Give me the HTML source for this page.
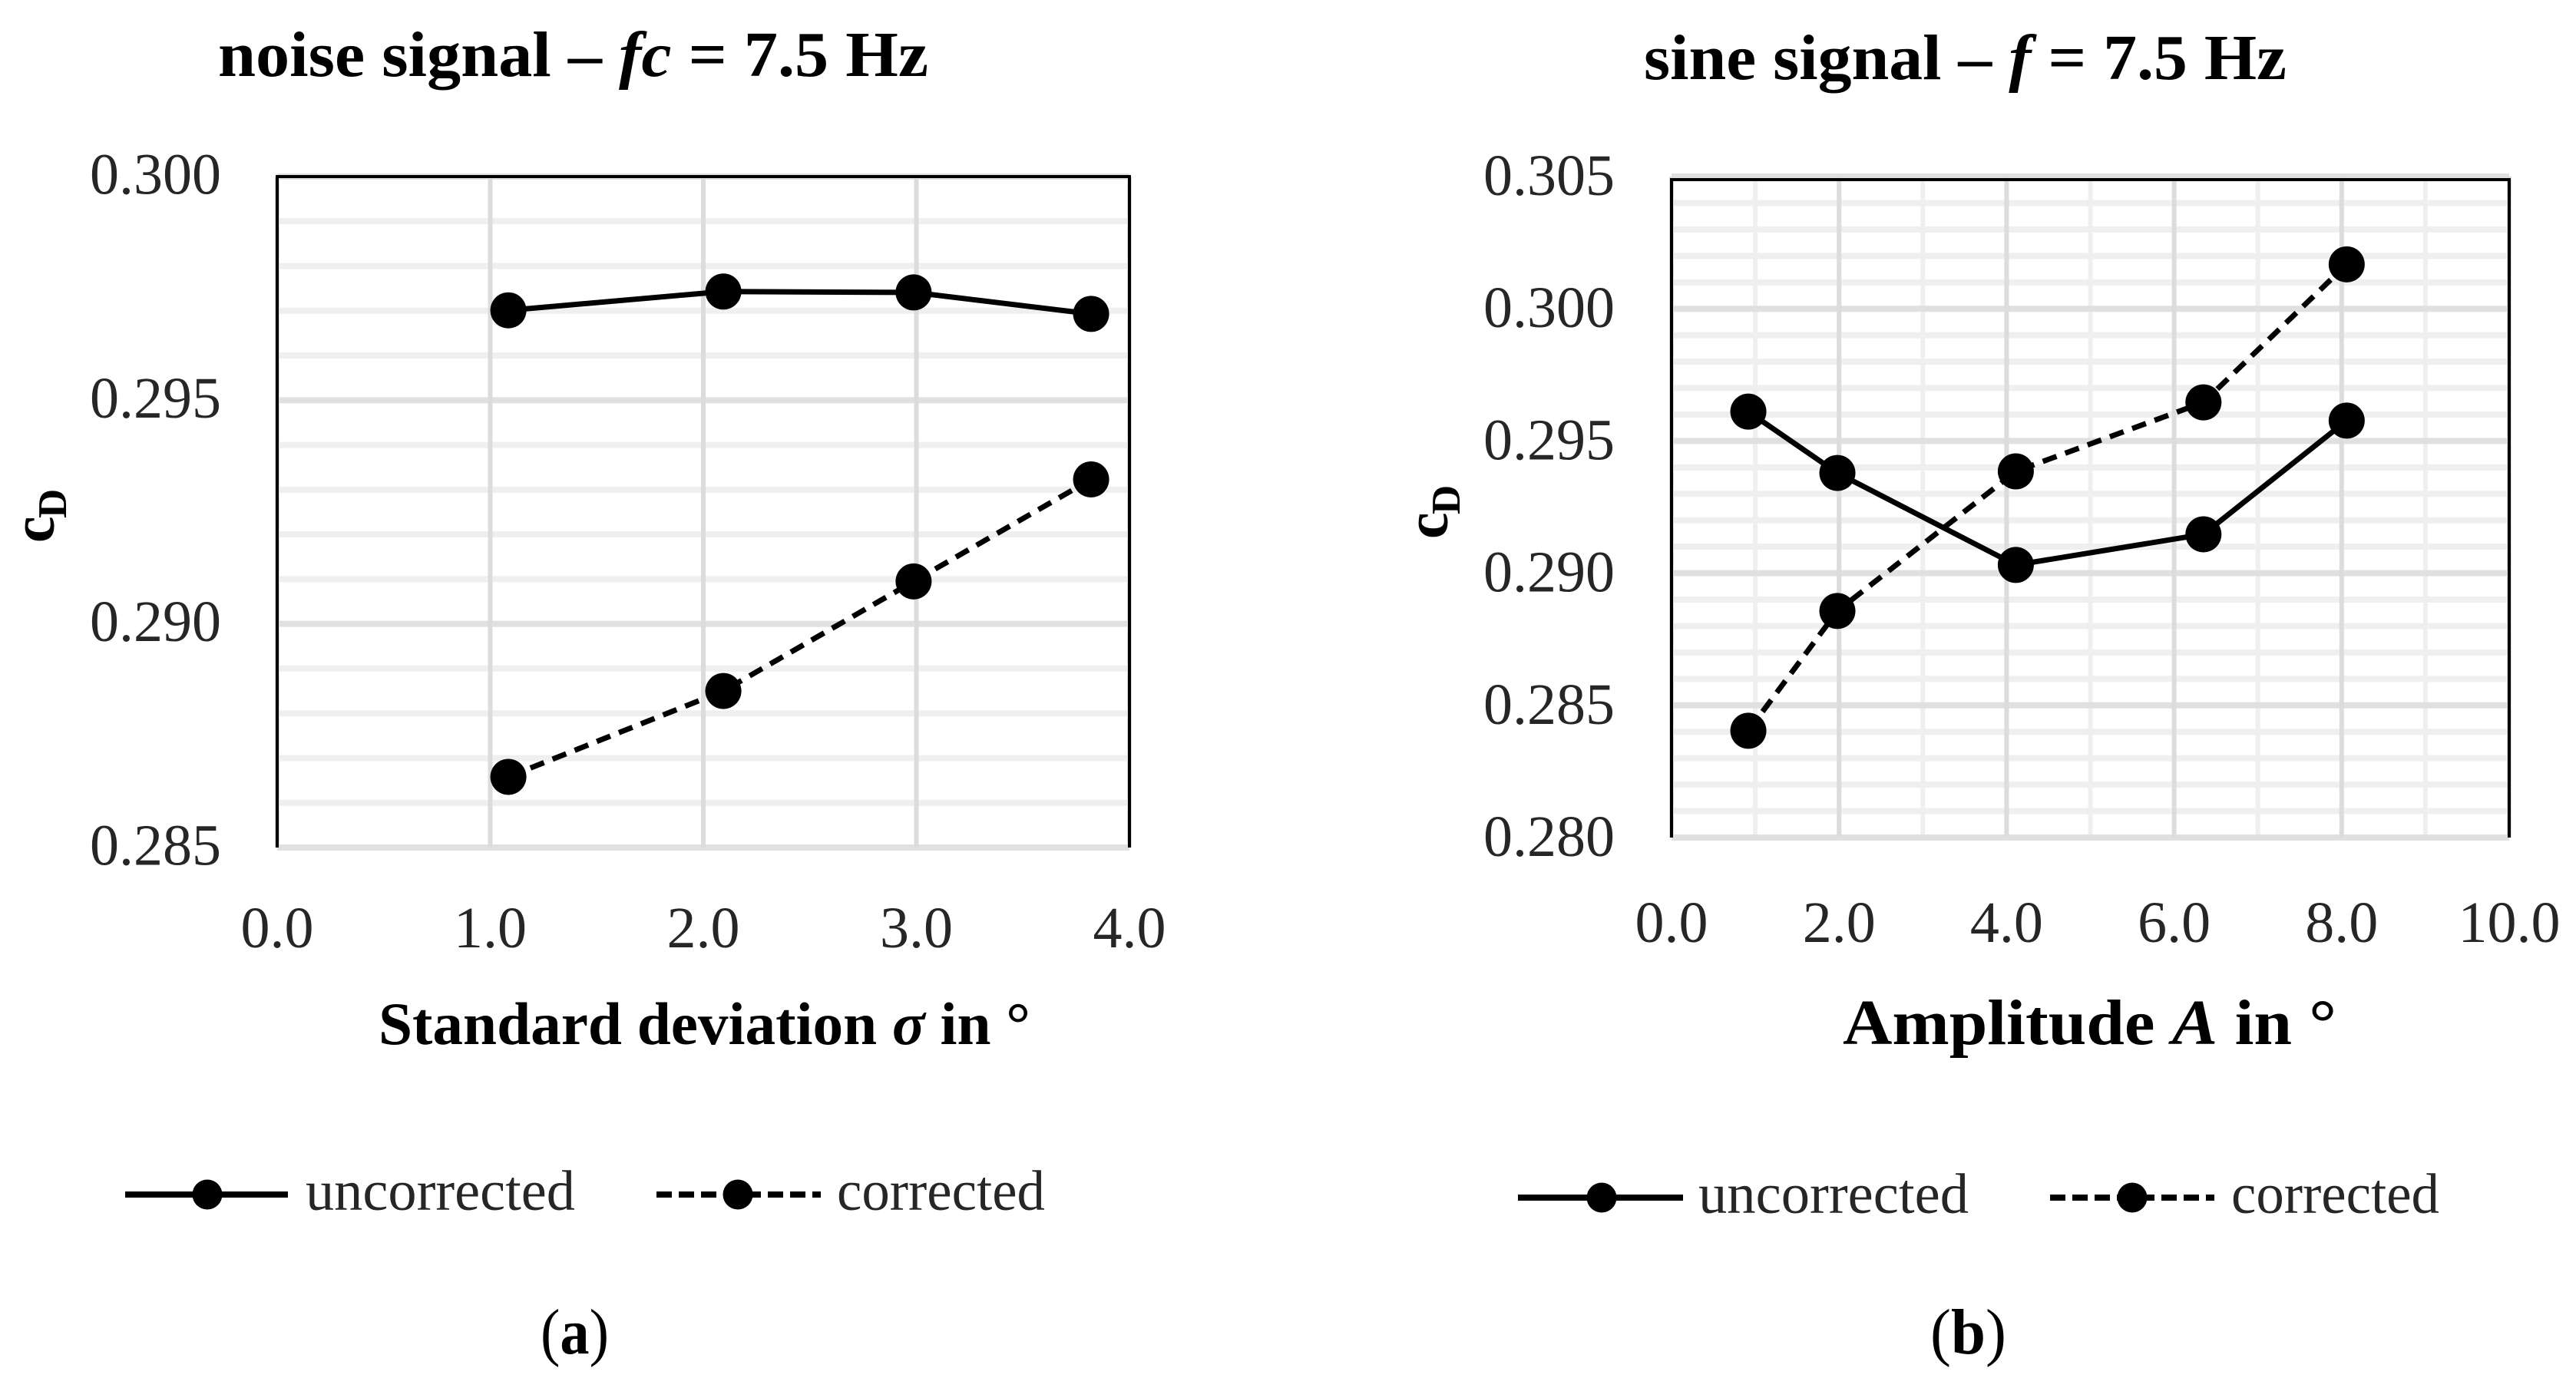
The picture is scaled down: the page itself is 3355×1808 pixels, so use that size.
<!DOCTYPE html>
<html lang="en">
<head>
<meta charset="utf-8">
<title>Drag coefficient: noise and sine signals</title>
<style>
html,body{margin:0;padding:0;background:#fff;width:3355px;height:1808px;overflow:hidden}
svg{display:block;font-family:"Liberation Serif",serif}
.tick{font-size:76px;fill:#262626}
.bold{font-weight:700;fill:#000}
.it{font-style:italic}
.leg{font-size:74px;fill:#262626}
</style>
</head>
<body>
<svg id="figure" xmlns="http://www.w3.org/2000/svg" width="3355" height="1808" viewBox="0 0 3355 1808">
  <rect width="3355" height="1808" fill="#fff"/>

  <g id="chart-a"></g>
  <g id="chart-b"></g>

  <text class="bold" x="284" y="99" font-size="84" textLength="925" lengthAdjust="spacingAndGlyphs">noise signal – <tspan class="it">fc</tspan> = 7.5 Hz</text>
  <text class="bold" x="2141" y="103" font-size="84" textLength="837" lengthAdjust="spacingAndGlyphs">sine signal – <tspan class="it">f</tspan> = 7.5 Hz</text>

  <text class="bold" x="493" y="1360" font-size="78" textLength="849" lengthAdjust="spacingAndGlyphs">Standard deviation <tspan class="it">σ</tspan> in °</text>
  <text class="bold" x="2400" y="1360" font-size="84" textLength="643" lengthAdjust="spacingAndGlyphs">Amplitude <tspan class="it">A</tspan> in °</text>

  <g class="bold">
    <text transform="translate(70,707) rotate(-90)" font-size="78">c</text>
    <text transform="translate(86,675) rotate(-90)" font-size="53">D</text>
  </g>
  <g class="bold">
    <text transform="translate(1885,702) rotate(-90)" font-size="78">c</text>
    <text transform="translate(1901,670) rotate(-90)" font-size="53">D</text>
  </g>

  <g>
    <g>
      <line x1="163" y1="1556" x2="375" y2="1556" stroke="#000" stroke-width="8"/>
      <circle cx="270" cy="1556" r="19.5" fill="#000"/>
      <text class="leg" x="398" y="1576" textLength="351" lengthAdjust="spacingAndGlyphs">uncorrected</text>
    </g>
    <g>
      <line x1="855" y1="1556" x2="1069" y2="1556" stroke="#000" stroke-width="8" stroke-dasharray="20 9"/>
      <circle cx="961" cy="1556" r="19.5" fill="#000"/>
      <text class="leg" x="1090" y="1576" textLength="271" lengthAdjust="spacingAndGlyphs">corrected</text>
    </g>
  </g>

  <g>
    <g>
      <line x1="1977" y1="1560" x2="2192" y2="1560" stroke="#000" stroke-width="8"/>
      <circle cx="2086" cy="1560" r="19.5" fill="#000"/>
      <text class="leg" x="2212" y="1580" textLength="352" lengthAdjust="spacingAndGlyphs">uncorrected</text>
    </g>
    <g>
      <line x1="2670" y1="1560" x2="2884" y2="1560" stroke="#000" stroke-width="8" stroke-dasharray="20 9"/>
      <circle cx="2777" cy="1560" r="19.5" fill="#000"/>
      <text class="leg" x="2906" y="1580" textLength="271" lengthAdjust="spacingAndGlyphs">corrected</text>
    </g>
  </g>

  <text x="704" y="1763" font-size="84" textLength="89" lengthAdjust="spacingAndGlyphs">(<tspan font-weight="700">a</tspan>)</text>
  <text x="2514" y="1763" font-size="84" textLength="99" lengthAdjust="spacingAndGlyphs">(<tspan font-weight="700">b</tspan>)</text>
</svg>

<script>
// Chart (a): noise signal
const aXValues = [1.085, 2.094, 2.987, 3.82];
const aUncorrected = [0.29701, 0.29743, 0.29741, 0.29693];
const aCorrected = [0.28658, 0.2885, 0.29095, 0.29323];
const aXTicks = [0, 1, 2, 3, 4];
const aXTickLabels = ['0.0', '1.0', '2.0', '3.0', '4.0'];
const aYTicks = [0.285, 0.29, 0.295, 0.3];
const aYTickLabels = ['0.285', '0.290', '0.295', '0.300'];

// Chart (b): sine signal
const bXValues = [0.917, 1.98, 4.11, 6.35, 8.06];
const bUncorrected = [0.29611, 0.29379, 0.29031, 0.29147, 0.29577];
const bCorrected = [0.28404, 0.28857, 0.29385, 0.29646, 0.30168];
const bXTicks = [0, 2, 4, 6, 8, 10];
const bXTickLabels = ['0.0', '2.0', '4.0', '6.0', '8.0', '10.0'];
const bYTicks = [0.28, 0.285, 0.29, 0.295, 0.3, 0.305];
const bYTickLabels = ['0.280', '0.285', '0.290', '0.295', '0.300', '0.305'];

const SVG_NS = 'http://www.w3.org/2000/svg';

function make(parent, tag, props) {
  const el = document.createElementNS(SVG_NS, tag);
  for (const k in props) el.setAttribute(k, props[k]);
  parent.appendChild(el);
  return el;
}

function drawChart(root, geo, xValues, seriesSolid, seriesDashed, xTicks, xLabels, yTicks, yLabels) {
  const xMin = xTicks[0], xMax = xTicks[xTicks.length - 1];
  const yMin = yTicks[0], yMax = yTicks[yTicks.length - 1];
  const xs = v => geo.left + (v - xMin) / (xMax - xMin) * (geo.right - geo.left);
  const ys = v => geo.bottom - (v - yMin) / (yMax - yMin) * (geo.bottom - geo.top);

  // minor horizontal gridlines: five subdivisions per major step
  for (let i = 0; i < yTicks.length - 1; i++) {
    for (let j = 1; j < 5; j++) {
      const v = yTicks[i] + (yTicks[i + 1] - yTicks[i]) * j / 5;
      const el = make(root, 'line', {x1: geo.left, x2: geo.right, y1: ys(v), y2: ys(v), stroke: '#efefef', 'stroke-width': 8});
      
      
    }
  }
  // minor vertical gridlines
  if (geo.minorX) {
    for (let i = 0; i < xTicks.length - 1; i++) {
      const v = (xTicks[i] + xTicks[i + 1]) / 2;
      const el = make(root, 'line', {x1: xs(v), x2: xs(v), y1: geo.top, y2: geo.bottom, stroke: '#efefef', 'stroke-width': 6});
      
      
    }
  }
  // major gridlines
  yTicks.forEach(v => {
    const el = make(root, 'line', {x1: geo.left, x2: geo.right, y1: ys(v), y2: ys(v), stroke: '#e0e0e0', 'stroke-width': 8});
    
    
  });
  xTicks.forEach(v => {
    const el = make(root, 'line', {x1: xs(v), x2: xs(v), y1: geo.top, y2: geo.bottom, stroke: '#dcdcdc', 'stroke-width': 6});
    
    
  });

  // black frame on left, top, right
  const frame = make(root, 'path', {
    d: 'M' + geo.left + ' ' + geo.bottom + 'V' + geo.frameTop + 'H' + geo.right + 'V' + geo.bottom,
    fill: 'none', stroke: '#000', 'stroke-width': 4
  });
  
  

  // tick labels
  yTicks.forEach((v, i) => {
    const t = make(root, 'text', {x: geo.yLabelX, y: ys(v) + geo.yLabelDy, 'text-anchor': 'end', class: 'tick'});
    
    
    t.textContent = yLabels[i];
  });
  xTicks.forEach((v, i) => {
    const t = make(root, 'text', {x: xs(v), y: geo.xLabelY, 'text-anchor': 'middle', class: 'tick'});
    
    
    t.textContent = xLabels[i];
  });

  // series
  const pts = vals => vals.map((v, i) => xs(xValues[i]) + ',' + ys(v)).join(' ');

  const solid = make(root, 'polyline', {points: pts(seriesSolid), fill: 'none', stroke: '#000', 'stroke-width': 7, 'stroke-linejoin': 'round'});
  
  

  const dashed = make(root, 'polyline', {points: pts(seriesDashed), fill: 'none', stroke: '#000', 'stroke-width': 7, 'stroke-dasharray': '19 12'});
  
  

  seriesSolid.forEach((v, i) => {
    const c = make(root, 'circle', {cx: xs(xValues[i]), cy: ys(v), r: 23.5, fill: '#000'});
    
    
  });
  seriesDashed.forEach((v, i) => {
    const c = make(root, 'circle', {cx: xs(xValues[i]), cy: ys(v), r: 23.5, fill: '#000'});
    
    
  });
}

drawChart(document.getElementById('chart-a'),
  {left: 361, right: 1471, top: 230, bottom: 1104, frameTop: 230, yLabelX: 288, yLabelDy: 22.5, xLabelY: 1234, minorX: false},
  aXValues, aUncorrected, aCorrected, aXTicks, aXTickLabels, aYTicks, aYTickLabels);

drawChart(document.getElementById('chart-b'),
  {left: 2177, right: 3268, top: 230, bottom: 1091, frameTop: 234, yLabelX: 2103, yLabelDy: 24, xLabelY: 1227, minorX: true},
  bXValues, bUncorrected, bCorrected, bXTicks, bXTickLabels, bYTicks, bYTickLabels);
</script>
</body>
</html>
